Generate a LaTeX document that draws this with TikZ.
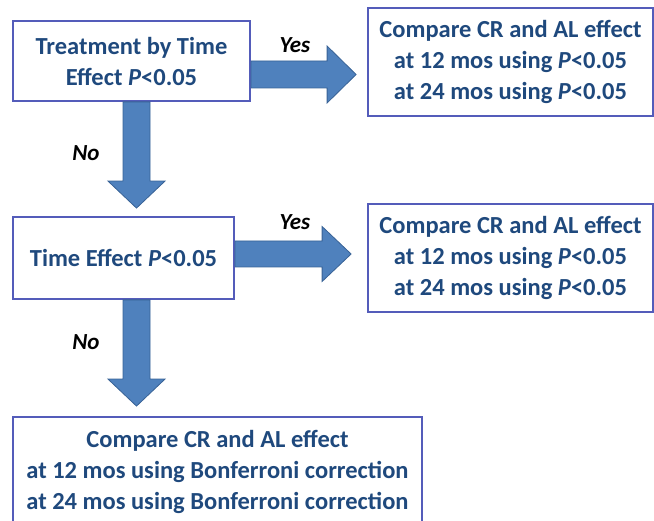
\documentclass[tikz,border=0pt]{standalone}
\usepackage{fontspec}
\setmainfont{Carlito}
\usetikzlibrary{calc}
\definecolor{txtblue}{RGB}{31,73,125}
\definecolor{boxline}{RGB}{84,92,186}
\definecolor{arrfill}{RGB}{79,129,189}
\definecolor{arrline}{RGB}{56,98,150}
\tikzset{
  box/.style={draw=boxline, line width=1.8pt, fill=white, align=center, text=txtblue,
    font=\fontsize{24.5}{31}\selectfont\bfseries, inner sep=0pt},
  lbl/.style={font=\fontsize{23}{26}\selectfont\bfseries\itshape, text=black},
  blockarrow/.style={fill=arrfill, draw=arrline, line width=0.8pt, line join=miter}
}
\newcommand\HArrow[5]{%
  \draw[blockarrow] ($(#1)+(0,#3)$) -- ($(#2)+(-#5,#3)$) -- ($(#2)+(-#5,#4)$) -- (#2)
    -- ($(#2)+(-#5,-#4)$) -- ($(#2)+(-#5,-#3)$) -- ($(#1)+(0,-#3)$) -- cycle;}
\newcommand\VArrow[5]{%
  \draw[blockarrow] ($(#1)+(-#3,0)$) -- ($(#2)+(-#3,#5)$) -- ($(#2)+(-#4,#5)$) -- (#2)
    -- ($(#2)+(#4,#5)$) -- ($(#2)+(#3,#5)$) -- ($(#1)+(#3,0)$) -- cycle;}
\begin{document}
\begin{tikzpicture}[x=1pt,y=1pt]
\useasboundingbox (0,0) rectangle (654,520);
\node[box, minimum width=237pt, minimum height=80pt] (b1) at (131.5,459)
  {Treatment by Time\\Effect \textit{P}<0.05};
\node[box, minimum width=285pt, minimum height=108pt] (b2) at (510.5,458)
  {Compare CR and AL effect\\at 12 mos using \textit{P}<0.05\\at 24 mos using \textit{P}<0.05};
\node[box, minimum width=221pt, minimum height=82pt] (b3) at (123.5,262)
  {Time Effect \textit{P}<0.05};
\node[box, minimum width=285pt, minimum height=108pt] (b4) at (510.5,262)
  {Compare CR and AL effect\\at 12 mos using \textit{P}<0.05\\at 24 mos using \textit{P}<0.05};
\node[box, minimum width=409pt, minimum height=110pt] (b5) at (217.5,48)
  {Compare CR and AL effect\\at 12 mos using Bonferroni correction\\at 24 mos using Bonferroni correction};
% arrows
\coordinate (a1s) at ($(b1.east)+(0,-13.5)$);
\coordinate (a1t) at ($(b2.west)+(-11,-12.5)$);
\HArrow{a1s}{a1t}{13.5}{28.5}{29}
\coordinate (v1s) at ($(b1.south)+(5,0)$);
\coordinate (v1t) at ($(b3.north)+(13,8)$);
\VArrow{v1s}{v1t}{13.5}{28.5}{27}
\coordinate (a2s) at ($(b3.east)+(0,4)$);
\coordinate (a2t) at ($(b4.west)+(-16,4)$);
\HArrow{a2s}{a2t}{13}{27.5}{29}
\coordinate (v2s) at ($(b3.south)+(13,0)$);
\coordinate (v2t) at ($(b5.north)+(-81,10)$);
\VArrow{v2s}{v2t}{13.5}{28.5}{27}
% labels
\node[lbl] (y1) at (295,475) {Yes};
\node[lbl] (n1) at (86,367) {No};
\node[lbl] (y2) at (295,298) {Yes};
\node[lbl] (n2) at (86,178) {No};
\end{tikzpicture}
\end{document}
